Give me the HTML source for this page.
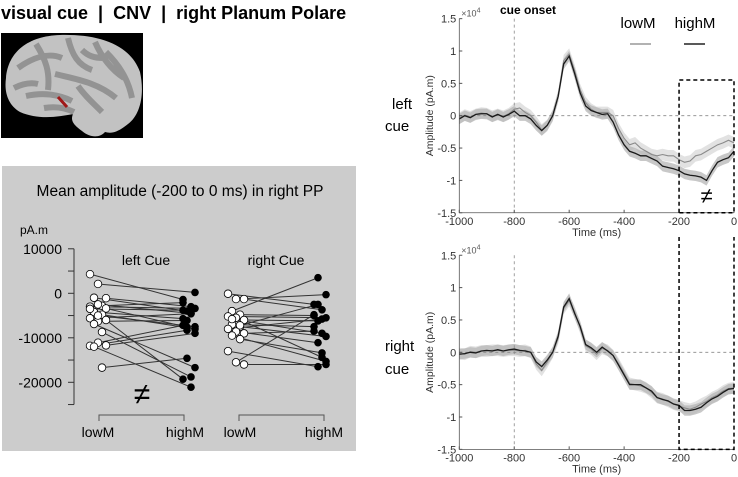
<!DOCTYPE html>
<html><head><meta charset="utf-8"><style>
body{margin:0;background:#fff;width:738px;height:477px;overflow:hidden;font-family:"Liberation Sans",sans-serif}
svg{position:absolute;left:0;top:0}
</style></head><body>
<svg id="fig" width="738" height="477" viewBox="0 0 738 477">
<text x="1" y="19" font-size="18" font-weight="bold" style="white-space:pre">visual cue  |  CNV  |  right Planum Polare</text>
<g>
<rect x="1" y="33" width="142" height="105" fill="#000"/>
<path d="M6,78 C8,52 28,36 60,35 C98,34 130,44 140,72 C145,95 140,115 128,124 C118,132 112,134 105,132 C100,138 90,138 82,131 C74,125 70,121 73,114 C58,117 38,120 20,112 C8,105 4,92 6,78 Z" fill="#c2c2c2"/>
<path d="M18,68 C32,58 48,52 62,58 M36,44 C46,60 50,72 48,90 M68,38 C72,55 78,65 92,70 M95,42 C102,58 112,70 124,78 M55,74 C75,79 97,82 116,98 M26,96 C44,92 60,95 72,101 M106,52 C118,64 128,78 132,98 M78,86 C85,96 92,102 102,112 M14,88 C22,84 30,82 38,84 M82,50 C88,56 94,58 104,58 M44,108 C56,106 66,108 74,112" stroke="#939393" stroke-width="6" fill="none"/>
<path d="M58,97 L67,107" stroke="#a01818" stroke-width="3"/>
</g>
<g id="dots"><rect x="2" y="166" width="354" height="285" fill="#cccccc"/></g>
<g id="ts1"></g>
<g id="ts2"></g>
<text x="500" y="14" font-size="12" font-weight="bold">cue onset</text>
<text x="638" y="28" font-size="15" text-anchor="middle">lowM</text>
<text x="695" y="28" font-size="15" text-anchor="middle">highM</text>
<line x1="630" y1="44" x2="651" y2="44" stroke="#999" stroke-width="1.5"/>
<line x1="684" y1="44" x2="705" y2="44" stroke="#222" stroke-width="1.5"/>
<text x="392" y="109" font-size="15">left</text>
<text x="385" y="131" font-size="15">cue</text>
<text x="385" y="351" font-size="15">right</text>
<text x="385" y="374" font-size="15">cue</text>
</svg>
<script>
const NS="http://www.w3.org/2000/svg";
function mk(p,t,a){const e=document.createElementNS(NS,t);for(const k in a)e.setAttribute(k,a[k]);p.appendChild(e);return e;}
// ---- paired dots data (units: pA.m) ----
const leftLow=[4300,2100,-1100,-1000,-2800,-3000,-2500,-3400,-4200,-4800,-5600,-6300,-6000,-6900,-8700,-11800,-11100,-11700,-12000,-16700,-3500,-5000];
const leftHigh=[-1400,200,-3000,-4000,-2100,-3400,-4500,-7600,-5700,-8000,-4600,-6100,-19300,-16700,-18800,-8300,-7200,-9000,-21100,-14600,-3800,-7500];
const rightLow=[-100,-1300,-1300,-4000,-4800,-5200,-5500,-6000,-7000,-7500,-8000,-8600,-9000,-9500,-10300,-13000,-15500,-16000,-5800,-7200];
const rightHigh=[-2500,-300,-3700,3500,-5000,-5500,-14400,-6200,-7500,-9700,-5800,-11100,-8500,-15300,-13400,-16500,-4800,-16000,-9000,-2500];
const yTicks=[10000,0,-10000,-20000];
const dots=document.getElementById('dots');
const yD=v=>293.3-v*44.5/10000;
mk(dots,'text',{x:180,y:196,'font-size':15.5,'text-anchor':'middle'}).textContent='Mean amplitude (-200 to 0 ms) in right PP';
mk(dots,'text',{x:20,y:234,'font-size':12}).textContent='pA.m';
const ax=mk(dots,'line',{x1:74,y1:yD(10000),x2:74,y2:yD(-25000),stroke:'#333'});


for(let v=10000;v>=-25000;v-=5000){mk(dots,'line',{x1:68,y1:yD(v),x2:74,y2:yD(v),stroke:'#333'});}
yTicks.forEach(v=>{const t=mk(dots,'text',{x:62,y:yD(v)+5,'font-size':14,'text-anchor':'end'});t.textContent=v;

});
function pairs(lo,hi,xl,xh,name){
  const g=mk(dots,'g',{});
  
  
  lo.forEach((v,i)=>{const jl=((i*7)%5-2)*4,jh=((i*3)%4-1.5)*4;
    mk(g,'line',{x1:xl+jl,y1:yD(v),x2:xh+jh,y2:yD(hi[i]),stroke:'#333','stroke-width':1});});
  lo.forEach((v,i)=>{const jl=((i*7)%5-2)*4,jh=((i*3)%4-1.5)*4;
    const a=mk(g,'circle',{cx:xl+jl,cy:yD(v),r:3.8,fill:'#fff',stroke:'#000','stroke-width':0.8});
    
    
    const b=mk(g,'circle',{cx:xh+jh,cy:yD(hi[i]),r:3.8,fill:'#000'});
    
    });
}
pairs(leftLow,leftHigh,98,189,'left-cue-pairs');
pairs(rightLow,rightHigh,236,320,'right-cue-pairs');
mk(dots,'text',{x:146,y:265,'font-size':14,'text-anchor':'middle'}).textContent='left Cue';
mk(dots,'text',{x:276,y:265,'font-size':14,'text-anchor':'middle'}).textContent='right Cue';
mk(dots,'text',{x:142,y:404,'font-size':30,'text-anchor':'middle'}).textContent='≠';
[[99,184],[239,324]].forEach(b=>{mk(dots,'path',{d:`M${b[0]},421 V415 H${b[1]} V421`,stroke:'#555',fill:'none'});});
[['lowM',98],['highM',185],['lowM',240],['highM',324]].forEach(l=>{const t=mk(dots,'text',{x:l[1],y:437,'font-size':14,'text-anchor':'middle'});t.textContent=l[0];

});
// ---- time series data (x10^4 pA.m) ----
const times=[];for(let t=-1000;t<=0;t+=20)times.push(t);
const leftHighV=[-0.05,0,-0.03,0.02,0.03,0.03,-0.02,0.02,-0.02,0.02,0.07,0,0,-0.05,-0.15,-0.23,-0.15,0,0.3,0.8,0.92,0.65,0.35,0.15,0.08,0.05,0.02,0.03,-0.1,-0.3,-0.45,-0.55,-0.58,-0.62,-0.62,-0.66,-0.7,-0.78,-0.8,-0.82,-0.85,-0.9,-0.92,-0.93,-0.95,-1.0,-0.85,-0.72,-0.68,-0.65,-0.55];
const leftLowV=[-0.04,0.01,-0.02,0.02,0.04,0.03,-0.01,0.02,-0.01,0.03,0.1,0.12,0.05,0,-0.1,-0.22,-0.15,0,0.3,0.85,0.95,0.7,0.4,0.2,0.1,0.05,0.05,0.05,0,-0.2,-0.35,-0.45,-0.42,-0.5,-0.55,-0.6,-0.62,-0.6,-0.62,-0.62,-0.68,-0.72,-0.7,-0.62,-0.6,-0.55,-0.5,-0.45,-0.42,-0.38,-0.42];
const rightHighV=[-0.03,-0.02,0,-0.01,0.02,0.03,0.02,0.04,0.02,0.04,0.05,0.03,0.02,0,-0.15,-0.22,-0.12,0,0.25,0.7,0.83,0.6,0.4,0.12,0.07,0,0.08,0.02,-0.05,-0.2,-0.35,-0.5,-0.5,-0.5,-0.55,-0.6,-0.7,-0.73,-0.75,-0.8,-0.82,-0.9,-0.9,-0.88,-0.85,-0.78,-0.72,-0.68,-0.62,-0.57,-0.56];
const rightLowV=[-0.02,-0.03,0.01,0,0.02,0.02,0.03,0.03,0.02,0.03,0.03,0.02,0.03,0,-0.18,-0.28,-0.15,0,0.22,0.68,0.8,0.62,0.38,0.1,0.05,-0.03,0.06,0.03,-0.05,-0.18,-0.33,-0.48,-0.5,-0.52,-0.55,-0.62,-0.7,-0.72,-0.76,-0.8,-0.83,-0.86,-0.88,-0.85,-0.8,-0.76,-0.7,-0.66,-0.6,-0.56,-0.55];
const xTicks=[-1000,-800,-600,-400,-200,0];
const yTicksTS=[1.5,1,0.5,0,-0.5,-1,-1.5];
function plot(gid,zeroY,hi,lo,boxTop,boxHasTop,notEq){
  const g=document.getElementById(gid);
  const X=t=>459.3+(t+1000)*274.7/1000, Y=v=>zeroY-v*64.7;
  const band=(arr,col,w)=>{let up=arr.map((v,i)=>`${X(times[i])},${Y(v+w)}`),dn=arr.map((v,i)=>`${X(times[i])},${Y(v-w)}`).reverse();
    mk(g,'polygon',{points:up.concat(dn).join(' '),fill:col,opacity:0.75});};
  band(lo,'#d8d8d8',0.09);band(hi,'#b5b5b5',0.08);
  mk(g,'line',{x1:X(-1000),y1:Y(0),x2:X(0),y2:Y(0),stroke:'#888','stroke-dasharray':'3,3','stroke-width':0.8});
  mk(g,'line',{x1:X(-800),y1:Y(1.5),x2:X(-800),y2:Y(-1.5),stroke:'#888','stroke-dasharray':'3,3','stroke-width':0.8});
  const l1=mk(g,'polyline',{points:lo.map((v,i)=>`${X(times[i])},${Y(v)}`).join(' '),fill:'none',stroke:'#8a8a8a','stroke-width':1.1});
  
  
  const l2=mk(g,'polyline',{points:hi.map((v,i)=>`${X(times[i])},${Y(v)}`).join(' '),fill:'none',stroke:'#1a1a1a','stroke-width':1.3});
  
  
  mk(g,'path',{d:`M${X(-1000)},${Y(1.5)} V${Y(-1.5)} H${X(0)}`,stroke:'#555',fill:'none','stroke-width':0.8});
  xTicks.forEach(t=>{mk(g,'line',{x1:X(t),y1:Y(-1.5),x2:X(t),y2:Y(-1.5)-3,stroke:'#555'});
    const tx=mk(g,'text',{x:X(t),y:Y(-1.5)+12,'font-size':11,'text-anchor':'middle',fill:'#333'});tx.textContent=t;
    
    });
  yTicksTS.forEach(v=>{mk(g,'line',{x1:X(-1000),y1:Y(v),x2:X(-1000)+3,y2:Y(v),stroke:'#555'});
    const tx=mk(g,'text',{x:X(-1000)-3,y:Y(v)+4,'font-size':11,'text-anchor':'end',fill:'#333'});tx.textContent=v;
    
    });
  mk(g,'text',{x:X(-1000)+2,y:Y(1.5)-2,'font-size':9,fill:'#555'}).innerHTML='×10<tspan dy="-4" font-size="7">4</tspan>';
  const yl=mk(g,'text',{x:0,y:0,'font-size':10.5,'text-anchor':'middle',fill:'#333',transform:`translate(433,${Y(0)}) rotate(-90)`});yl.textContent='Amplitude (pA.m)';
  
  
  const xl=mk(g,'text',{x:X(-500),y:Y(-1.5)+23,'font-size':11,'text-anchor':'middle',fill:'#333'});xl.textContent='Time (ms)';
  
  
  const bx=mk(g,'path',{d:(boxHasTop?`M${X(-200)},${Y(-1.5)} V${boxTop} H${X(0)} V${Y(-1.5)} Z`:`M${X(-200)},${boxTop} V${Y(-1.5)} H${X(0)} V${boxTop}`),fill:'none',stroke:'#000','stroke-width':1.5,'stroke-dasharray':'4,3'});
  
  
  if(notEq){mk(g,'text',{x:X(-100),y:Y(-1.35),'font-size':22,'text-anchor':'middle'}).textContent='≠';}
}
plot('ts1',115.7,leftHighV,leftLowV,80,true,true);
plot('ts2',352.3,rightHighV,rightLowV,237,false,false);
</script>
</body></html>
